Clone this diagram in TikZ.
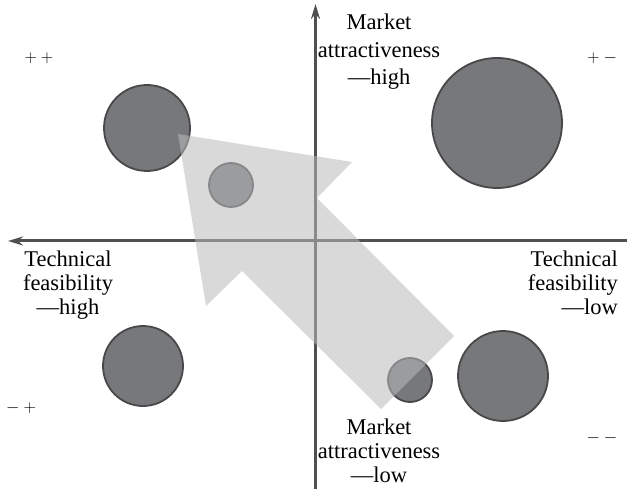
\documentclass[tikz,border=0pt]{standalone}
\usepackage{fontspec}
\setmainfont{Liberation Serif}
\usepackage{tikz}
\usetikzlibrary{arrows.meta}
\definecolor{bubblefill}{RGB}{119,120,122}
\definecolor{bubbleline}{RGB}{72,72,74}
\definecolor{axisgray}{RGB}{80,80,82}
\definecolor{arrowgray}{RGB}{185,186,188}

\begin{document}
\begin{tikzpicture}[x=1pt, y=-1pt,
    bubble/.style={circle, draw=bubbleline, fill=bubblefill, line width=1.8pt, inner sep=0pt, minimum size=#1},
    axis/.style={draw=axisgray, line width=3pt, -{Stealth[length=15pt, width=9pt]}},
    lbl/.style={font=\fontsize{22.5}{24}\selectfont, inner sep=0pt},
    sign/.style={font=\fontsize{16}{18}\selectfont, inner sep=0pt}]
    \useasboundingbox (0,0) rectangle (627,489);

    % Axes
    \coordinate (top) at (315.5,4);
    \coordinate (bottom) at (315.5,489);
    \coordinate (left) at (8,241);
    \coordinate (right) at (627,241);
    \draw[axis] (bottom) -- (top);
    \draw[axis] (right) -- (left);

    % Axis labels
    \node[lbl, align=center, anchor=north] (mhigh) at (379,14) {Market\\[3.5pt] attractiveness\\[3.5pt] ---high};
    \node[lbl, align=center, anchor=north] (mlow) at (379,419) {Market\\ attractiveness\\ ---low};
    \node[lbl, align=center, anchor=north] (thigh) at (68,251) {Technical\\ feasibility\\ ---high};
    \node[lbl, align=right, anchor=north east] (tlow) at (618,251) {Technical\\ feasibility\\ ---low};

    % Quadrant signs
    \node[sign] (pp) at (39,58) {$+$ $+$};
    \node[sign] (pm) at (602,58) {$+$ $-$};
    \node[sign] (mp) at (21,408) {$-$ $+$};
    \node[sign] (mm) at (602,438) {$-$ $-$};

    % Bubbles
    \node[bubble=86pt] (hh) at (147,128) {};
    \node[bubble=130pt] (hl) at (497,123) {};
    \node[bubble=80pt] (lh) at (143,366) {};
    \node[bubble=90pt] (ll) at (503,376) {};
    \node[bubble=44pt] (mid) at (231,185) {};
    \node[bubble=44pt] (low) at (410,380) {};

    % Direction arrow, see-through
    \fill[arrowgray, opacity=0.55] (178,134) -- (352,162) -- (317,198) -- (454,336)
        -- (381,409) -- (242,271) -- (206,306) -- cycle;
\end{tikzpicture}
\end{document}
